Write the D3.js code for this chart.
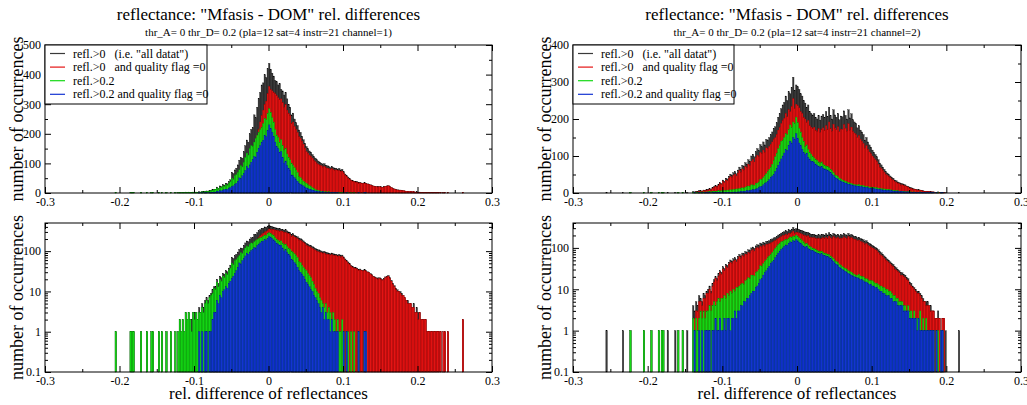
<!DOCTYPE html>
<html>
<head>
<meta charset="utf-8">
<script src="https://cdn.jsdelivr.net/npm/d3@7"></script>
<style>
  body { margin: 0; background: #fff; }
  svg text { font-family: "Liberation Serif", "Times New Roman", "DejaVu Serif", serif; fill: #000; }
</style>
</head>
<body>
<svg id="chart" width="1027" height="405" font-family="Liberation Serif, Times New Roman, DejaVu Serif, serif"></svg>
<script>
// === Datos (histogramas, ancho de bin 0.002) ===
const binWidth = 0.002;

// canal 1: primer bin en -0.210
const ch1Start = -0.210;
const ch1All = [
  0,0,1,0,0,0,0,0,0,0, 0,0,1,1,1,0,0,0,0,1, 0,0,0,1,0,0,1,1,0,0, 0,1,0,1,0,0,1,0,0,1,
  0,0,1,0,1,2,1,2,1,3, 2,3,2,2,3,3,3,2,4,3, 5,4,6,7,6,8,9,11,13,13, 20,16,24,22,28,27,33,31,38,45,
  70,66,78,84,95,111,120,118,140,160, 179,172,200,215,222,264,255,290,320,340,
  365,372,400,390,420,438,418,405,395,380, 376,365,370,350,345,331,340,318,300,290,
  264,270,250,238,228,213,205,192,180,168, 157,150,142,138,130,123,118,112,108,104,
  101,96,99,93,92,89,86,90,86,84, 84,80,83,78,80,72,64,58,54,49,
  44,42,40,39,38,35,36,34,33,35, 33,31,30,28,26,24,23,22,21,22,
  21,20,21,23,24,25,22,19,16,14, 12,11,10,10,9,8,7,6,6,5,
  5,4,5,3,4,3,3,2,2,2, 2,1,1,1,1,1,1,1,1,1, 1,0,1,1,0,1,0,0,0,0, 0,0,0,0,0,2
];
const ch1Flag0 = [
  0,0,0,0,0,0,0,0,0,0, 0,0,0,0,0,0,0,0,0,0, 0,0,0,0,0,0,0,0,0,0, 0,0,0,0,0,0,0,0,0,0,
  0,0,0,0,0,0,0,0,0,0, 0,0,0,0,0,0,0,0,1,0, 1,0,1,1,0,1,1,2,3,3, 7,6,9,8,11,12,14,13,17,20,
  24,28,32,38,45,58,55,66,76,88, 105,100,118,130,142,160,170,195,215,240,
  262,280,300,310,335,360,350,345,340,335, 330,322,315,318,305,290,298,280,270,262,
  235,240,225,215,205,190,185,175,165,152, 140,135,128,124,118,110,106,100,97,94,
  92,88,90,85,84,82,80,82,79,77, 78,75,76,72,74,68,60,55,50,46,
  42,40,38,37,36,34,34,33,32,33, 32,30,29,27,25,23,22,21,20,21,
  20,19,20,22,23,24,21,18,15,13, 11,10,10,9,8,8,7,6,5,5,
  5,4,4,3,3,2,3,2,2,2, 2,1,1,1,1,1,1,1,1,1, 1,0,1,1,0,1,0,0,0,0, 0,0,0,0,0,2
];
const ch1Refl02 = [
  0,0,1,0,0,0,0,0,0,0, 0,0,1,1,1,0,0,0,0,1, 0,0,0,1,0,0,1,1,0,0, 0,1,0,1,0,0,1,0,0,1,
  0,0,1,0,1,2,1,2,1,3, 2,3,2,1,3,2,3,2,3,3, 4,3,5,6,5,7,8,9,12,11, 17,13,20,18,24,22,28,26,33,38,
  50,46,58,62,70,78,92,88,104,120, 135,128,150,160,158,172,185,195,205,215,
  222,235,252,248,270,285,272,255,240,215, 196,188,172,180,160,145,150,132,120,112,
  101,94,86,78,70,55,52,45,40,36, 33,28,25,22,18,15,12,10,9,7,
  6,5,4,5,3,4,3,2,3,2, 1,2,1,1,2,1,0,1,1,0,
  1,0,1,0,0,1,0,0,0,1, 1,0,0,0,0,0,0,0,0,0,
  0,0,0,0,0,0,0,0,0,0, 0,0,0,0,0,0,0,0,0,0,
  0,0,0,0,0,0,0,0,0,0, 0,0,0,0,0,0,0,0,0,0, 0,0,0,0,0,0,0,0,0,0, 0,0,0,0,0,0
];
const ch1Refl02Flag0 = [
  0,0,0,0,0,0,0,0,0,0, 0,0,0,0,0,0,0,0,0,0, 0,0,0,0,0,0,0,0,0,0, 0,0,0,0,0,0,0,0,0,0,
  0,0,0,0,0,0,0,0,0,0, 0,0,0,0,0,0,0,0,1,0, 1,0,1,1,0,1,1,2,3,3, 6,5,8,7,10,11,13,12,16,18,
  21,24,28,33,40,51,48,58,66,76, 89,84,95,104,112,123,120,138,150,160,
  172,178,195,190,210,230,218,205,190,172, 157,150,136,140,120,101,108,92,84,76,
  61,58,52,46,40,33,30,27,24,20, 17,15,13,11,10,8,7,6,5,4,
  3,4,2,3,2,2,1,2,1,1, 1,1,0,0,0,1,0,1,0,0,
  0,0,0,0,0,1,0,0,0,1, 1,0,0,0,0,0,0,0,0,0,
  0,0,0,0,0,0,0,0,0,0, 0,0,0,0,0,0,0,0,0,0,
  0,0,0,0,0,0,0,0,0,0, 0,0,0,0,0,0,0,0,0,0, 0,0,0,0,0,0,0,0,0,0, 0,0,0,0,0,0
];

// canal 2: primer bin en -0.260
const ch2Start = -0.260;
const ch2All = [
  0,0,1,0,0,0,0,0,0,0, 0,0,0,1,0,0,0,0,1,0, 0,0,0,0,0,0,0,1,0,0, 0,0,1,0,0,0,0,1,0,1,
  1,0,0,1,0,0,0,0,1,0, 1,0,0,1,0,0,1,0,0,0, 4,3,5,4,7,6,5,8,7,9, 10,12,9,14,17,20,18,24,28,26,
  35,32,40,38,45,51,48,55,58,52, 62,70,64,75,72,82,78,90,86,100,
  105,98,112,120,115,131,125,138,130,145, 143,150,158,165,175,179,190,205,215,228,
  238,245,262,250,274,268,285,313,278,292, 287,280,268,262,250,243,232,238,220,215,
  211,215,205,200,210,197,208,212,205,220, 206,232,210,200,225,211,205,215,198,208,
  206,222,210,200,225,203,214,198,192,188, 176,182,170,165,158,143,150,138,130,124,
  116,110,104,98,90,81,76,70,64,58, 54,50,46,42,40,35,33,30,28,25,
  25,23,22,19,18,15,14,12,11,10, 9,9,8,7,6,5,5,5,4,4, 3,3,2,2,3,2,1,2,2,1, 0,0,0,0,0,0,0,0,1,0
];
const ch2Flag0 = [
  0,0,0,0,0,0,0,0,0,0, 0,0,0,0,0,0,0,0,0,0, 0,0,0,0,0,0,0,0,0,0, 0,0,0,0,0,0,0,0,0,0,
  0,0,0,0,0,0,0,0,0,0, 0,0,0,0,0,0,0,0,0,0, 0,2,3,3,5,5,4,6,6,8, 8,10,8,12,15,18,16,21,25,23,
  31,28,35,33,40,45,42,48,51,46, 54,61,56,65,62,71,68,78,74,86,
  90,84,96,102,98,110,106,116,110,122, 120,126,132,138,146,150,158,170,178,188,
  196,202,215,206,225,220,234,255,228,240, 236,230,220,215,205,200,192,196,182,178,
  175,178,170,166,174,164,172,176,170,182, 172,192,175,167,186,176,171,179,166,173,
  172,185,175,167,187,170,178,166,162,158, 150,155,145,140,134,122,128,118,111,106,
  100,95,90,85,78,70,66,61,56,51, 48,44,41,37,35,31,29,27,25,22,
  22,20,19,17,16,13,12,11,10,9, 8,8,7,6,5,5,4,4,4,3, 3,3,2,2,2,2,1,2,2,0, 0,0,0,0,0,0,0,0,0,0
];
const ch2Refl02 = [
  0,0,0,0,0,0,0,0,0,0, 0,0,0,0,0,0,0,0,1,0, 0,0,0,0,0,0,0,1,0,0, 0,0,1,0,0,0,0,1,0,1,
  1,0,0,0,0,0,0,0,0,0, 1,0,0,1,0,0,0,0,0,0, 2,1,2,1,2,3,2,3,2,3, 3,4,3,4,5,4,5,6,5,6,
  6,7,6,8,7,9,8,10,9,11, 11,12,13,14,13,16,17,19,18,22,
  22,21,25,27,30,37,36,42,47,52, 58,64,70,78,88,98,108,120,130,140,
  143,150,160,158,172,184,178,192,188,205, 190,175,165,150,140,125,130,118,110,105,
  98,95,90,88,84,81,84,78,75,72, 71,68,64,60,55,49,47,44,40,38,
  35,33,32,30,28,27,26,24,23,22, 22,23,21,20,20,18,18,17,16,16,
  16,15,14,14,13,12,12,11,11,10, 10,9,9,8,7,7,6,6,5,5,
  5,4,4,3,4,3,3,2,3,2, 2,2,3,1,2,1,2,1,1,1, 1,1,0,1,1,0,1,1,0,0, 0,0,0,0,0,0,0,0,0,0
];
const ch2Refl02Flag0 = [
  0,0,0,0,0,0,0,0,0,0, 0,0,0,0,0,0,0,0,0,0, 0,0,0,0,0,0,0,0,0,0, 0,0,0,0,0,0,0,0,0,0,
  0,0,0,0,0,0,0,0,0,0, 0,0,0,0,0,0,0,0,0,0, 0,1,0,0,1,0,1,0,1,1, 1,1,0,1,1,2,1,1,2,1,
  1,2,1,2,2,1,2,2,3,2, 3,3,4,4,5,5,6,6,7,8,
  9,9,11,12,14,17,18,22,25,28, 32,36,42,46,50,58,66,75,84,92,
  100,108,118,115,128,140,135,150,145,160, 148,135,128,118,110,104,108,96,90,86,
  85,82,78,75,72,70,72,67,65,63, 62,58,55,51,47,42,40,37,34,32,
  30,28,27,25,24,23,22,21,20,19, 19,18,17,17,16,15,15,14,13,13,
  12,12,11,11,10,9,9,8,8,7, 7,7,6,6,5,5,5,4,4,4,
  4,3,3,3,3,2,2,2,2,2, 1,2,1,1,1,1,1,1,1,1, 1,1,0,1,0,0,1,1,0,0, 0,0,0,0,0,0,0,0,0,0
];

// === Ejes / textos ===
const xDomain = [-0.3, 0.3];
const xTicks = [-0.3, -0.2, -0.1, 0, 0.1, 0.2, 0.3];
const xMinor = [-0.25, -0.15, -0.05, 0.05, 0.15, 0.25];
const linMajor1 = [0, 100, 200, 300, 400, 500];
const linMinor1 = [50, 150, 250, 350, 450];
const linMajor2 = [0, 100, 200, 300, 400];
const linMinor2 = [50, 150, 250, 350];
const logMajor = [0.1, 1, 10, 100];
const logMult = [2, 3, 4, 5, 6, 7, 8, 9];
const legendLabels = [
  'refl.>0   (i.e. "all datat")',
  'refl.>0   and quality flag =0',
  'refl.>0.2',
  'refl.>0.2 and quality flag =0'
];
const seriesFill = ['#3a3a3a', '#e41414', '#16d816', '#1434d2'];
const seriesStroke = ['#000', '#a80000', '#00a000', '#001c9c'];
const titleText = 'reflectance: "Mfasis - DOM" rel. differences';
const subtitleText = ch => `thr_A= 0 thr_D= 0.2 (pla=12 sat=4 instr=21 channel=${ch})`;
const yLabel = 'number of occurrences';
const xLabel = 'rel. difference of reflectances';
const serif = '"Liberation Serif", "Times New Roman", "DejaVu Serif", serif';

// === Layout ===
const svg = d3.select('#chart');
const rowTop = { y0: 45, y1: 193 };
const rowBot = { y0: 223, y1: 372 };
const panels = [
  { x0: 45, x1: 492, channel: 1, start: ch1Start,
    series: [ch1All, ch1Flag0, ch1Refl02, ch1Refl02Flag0],
    linMax: 500, linMajor: linMajor1, linMinor: linMinor1, logMax: 500, legendW: 162 },
  { x0: 573, x1: 1021, channel: 2, start: ch2Start,
    series: [ch2All, ch2Flag0, ch2Refl02, ch2Refl02Flag0],
    linMax: 400, linMajor: linMajor2, linMinor: linMinor2, logMax: 400, legendW: 161 }
];

function styleAxis(g) {
  g.select('.domain').remove();
  g.attr('font-family', serif).attr('font-size', 12);
  g.selectAll('line').attr('stroke', '#000');
  g.selectAll('text').style('font-family', serif).style('font-size', '12px');
}

function drawBars(p, x, y, base) {
  const g = svg.append('g');
  p.series.forEach((vals, s) => {
    const bins = vals.map((v, i) => ({ v, i })).filter(d => d.v > 0);
    g.append('g')
      .attr('fill', seriesFill[s])
      .attr('stroke', seriesStroke[s])
      .attr('stroke-width', 0.3)
      .selectAll('rect').data(bins).join('rect')
      .attr('x', d => x(p.start + d.i * binWidth))
      .attr('width', d => x(p.start + (d.i + 1) * binWidth) - x(p.start + d.i * binWidth))
      .attr('y', d => y(d.v))
      .attr('height', d => base - y(d.v));
  });
}

function drawFrame(p, x, y, row, yMajor, yMinor) {
  const ax = (gen, tx, ty) => svg.append('g').attr('transform', `translate(${tx},${ty})`).call(gen).call(styleAxis);
  ax(d3.axisBottom(x).tickValues(xTicks).tickSize(-6).tickPadding(4).tickFormat(d => String(d)), 0, row.y1);
  ax(d3.axisBottom(x).tickValues(xMinor).tickSize(-3).tickFormat(''), 0, row.y1);
  ax(d3.axisTop(x).tickValues(xTicks).tickSize(-6).tickFormat(''), 0, row.y0);
  ax(d3.axisTop(x).tickValues(xMinor).tickSize(-3).tickFormat(''), 0, row.y0);
  ax(d3.axisLeft(y).tickValues(yMajor).tickSize(-6).tickPadding(4).tickFormat(d => String(d)), p.x0, 0);
  ax(d3.axisLeft(y).tickValues(yMinor).tickSize(-3).tickFormat(''), p.x0, 0);
  ax(d3.axisRight(y).tickValues(yMajor).tickSize(-6).tickFormat(''), p.x1, 0);
  ax(d3.axisRight(y).tickValues(yMinor).tickSize(-3).tickFormat(''), p.x1, 0);
  svg.append('rect')
    .attr('x', p.x0).attr('y', row.y0)
    .attr('width', p.x1 - p.x0).attr('height', row.y1 - row.y0)
    .attr('fill', 'none').attr('stroke', '#000').attr('stroke-width', 1);
  svg.append('text')
    .attr('transform', `translate(${p.x0 - 28},${(row.y0 + row.y1) / 2}) rotate(-90)`)
    .attr('text-anchor', 'middle').attr('dy', '0.35em')
    .style('font-family', serif).style('font-size', '18px')
    .text(yLabel);
}

function drawLegend(p) {
  const g = svg.append('g');
  g.append('rect')
    .attr('x', p.x0).attr('y', rowTop.y0)
    .attr('width', p.legendW).attr('height', 59)
    .attr('fill', '#fff').attr('stroke', '#000').attr('stroke-width', 1);
  legendLabels.forEach((lab, i) => {
    const cy = rowTop.y0 + 8.5 + i * 13.6;
    g.append('line')
      .attr('x1', p.x0 + 5).attr('x2', p.x0 + 20)
      .attr('y1', cy).attr('y2', cy)
      .attr('stroke', seriesFill[i]).attr('stroke-width', 1.2);
    g.append('text')
      .attr('x', p.x0 + 28).attr('y', cy + 4)
      .style('font-family', serif).style('font-size', '12px').style('white-space', 'pre')
      .text(lab);
  });
}

panels.forEach(p => {
  const x = d3.scaleLinear().domain(xDomain).range([p.x0, p.x1]);
  const cx = (p.x0 + p.x1) / 2;

  // --- arriba: escala lineal ---
  const yLin = d3.scaleLinear().domain([0, p.linMax]).range([rowTop.y1, rowTop.y0]);
  drawBars(p, x, yLin, rowTop.y1);
  drawFrame(p, x, yLin, rowTop, p.linMajor, p.linMinor);
  drawLegend(p);

  // --- abajo: escala log ---
  const yLog = d3.scaleLog().domain([0.1, p.logMax]).range([rowBot.y1, rowBot.y0]);
  const logMinor = logMajor.flatMap(d => logMult.map(m => m * d)).filter(v => v <= p.logMax);
  drawBars(p, x, yLog, rowBot.y1);
  drawFrame(p, x, yLog, rowBot, logMajor, logMinor);

  // --- títulos ---
  svg.append('text').attr('x', cx).attr('y', 20).attr('text-anchor', 'middle')
    .style('font-family', serif).style('font-size', '17px').text(titleText);
  svg.append('text').attr('x', cx).attr('y', 36).attr('text-anchor', 'middle')
    .style('font-family', serif).style('font-size', '11px').text(subtitleText(p.channel));
  svg.append('text').attr('x', cx).attr('y', 399).attr('text-anchor', 'middle')
    .style('font-family', serif).style('font-size', '17px').text(xLabel);
});
</script>
</body>
</html>
